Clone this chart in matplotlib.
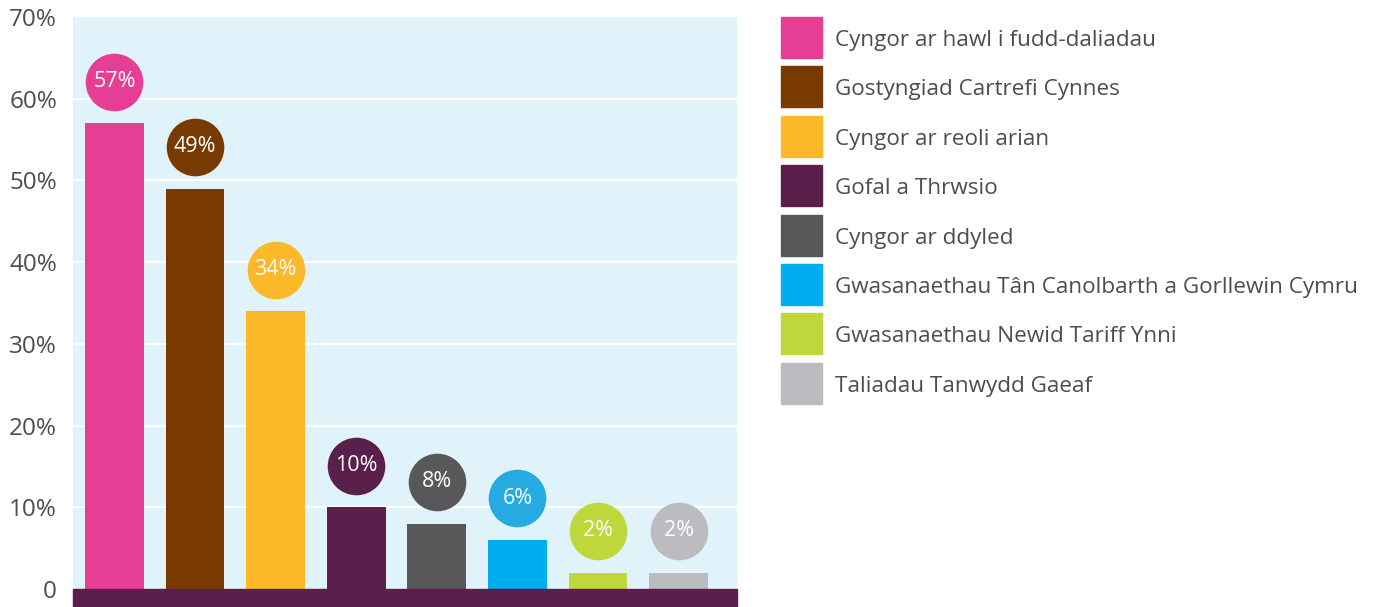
import matplotlib
matplotlib.use("Agg")
import matplotlib.pyplot as plt
from matplotlib.patches import Rectangle
from matplotlib.transforms import offset_copy

categories = [
    "Cyngor ar hawl i fudd-daliadau",
    "Gostyngiad Cartrefi Cynnes",
    "Cyngor ar reoli arian",
    "Gofal a Thrwsio",
    "Cyngor ar ddyled",
    "Gwasanaethau Tân Canolbarth a Gorllewin Cymru",
    "Gwasanaethau Newid Tariff Ynni",
    "Taliadau Tanwydd Gaeaf",
]
values = [57, 49, 34, 10, 8, 6, 2, 2]
labels = ["57%", "49%", "34%", "10%", "8%", "6%", "2%", "2%"]
colors = ["#E63E94", "#783A00", "#FBB829", "#5A1F4A", "#58585A", "#00AEEF", "#BED73B", "#BBBCC0"]
bubble_colors = ["#E63E94", "#783A00", "#FBB829", "#5A1F4A", "#58585A", "#25ABE2", "#BED73B", "#BBBCC0"]
yticks = [0, 10, 20, 30, 40, 50, 60, 70]
ytick_labels = ["0", "10%", "20%", "30%", "40%", "50%", "60%", "70%"]

W, H = 1376, 607
fig = plt.figure(figsize=(W / 100, H / 100), dpi=100)
fig.patch.set_facecolor("white")
plt.rcParams["font.family"] = ["Open Sans", "DejaVu Sans"]

ax = fig.add_axes([73 / W, 18 / H, (737 - 73) / W, (589 - 17) / H])
ax.set_facecolor("#E0F2FA")
x = list(range(len(values)))
ax.bar(x, values, width=0.73, color=colors, zorder=3)
ax.set_xlim(-0.515, 7.726)
ax.set_ylim(0, 70)
ax.set_yticks(yticks)
ax.set_yticklabels(ytick_labels, fontsize=17.5, color="#4D4D4D")
ax.tick_params(axis="y", length=0, pad=11.5)
ax.set_xticks([])
for s in ax.spines.values():
    s.set_visible(False)
for t in yticks[1:-1]:
    ax.axhline(t, color="white", lw=1.6, zorder=1)

# bottom band
ax.add_patch(Rectangle((0, -18 / 572), 1, 18 / 572, transform=ax.transAxes,
                       color="#5A1F4A", clip_on=False, zorder=4))

# bubbles
trans = offset_copy(ax.transData, fig=fig, x=0, y=30.0, units="points")
for xi, v, lab, c in zip(x, values, labels, bubble_colors):
    ax.scatter([xi], [v], s=1720, color=c, transform=trans, zorder=5, clip_on=False, linewidths=0)
    ax.text(xi, v, lab, transform=trans, ha="center", va="center",
            color="white", fontsize=15.5, zorder=6)

# legend (manual)
sq = 41
for i, (cat, c) in enumerate(zip(categories, colors)):
    top = 17 + i * 49.4
    fig.add_artist(Rectangle((781 / W, 1 - (top + sq) / H), sq / W, sq / H,
                             transform=fig.transFigure, color=c))
    fig.text(835 / W, 1 - (top + sq / 2 + 3) / H, cat, ha="left", va="center",
             fontsize=16.2, color="#4D4D4D")

fig.savefig("out.png", dpi=100)
